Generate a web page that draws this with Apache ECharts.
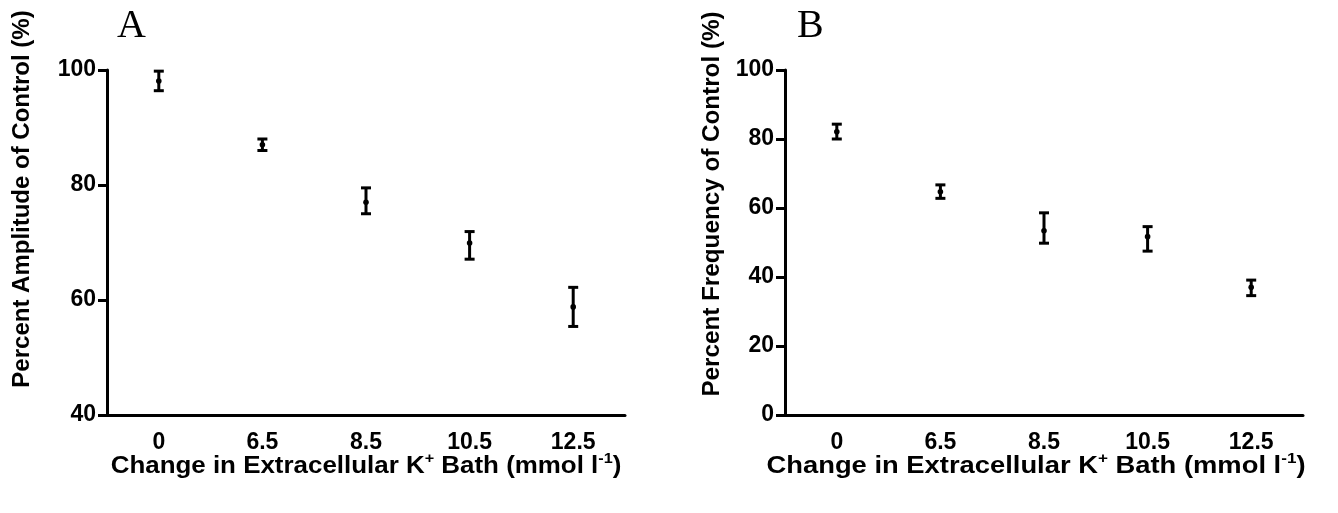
<!DOCTYPE html>
<html>
<head>
<meta charset="utf-8">
<script src="https://cdn.jsdelivr.net/npm/echarts@6/dist/echarts.min.js"></script>
<style>html,body{margin:0;padding:0;background:#fff;}#c{width:1338px;height:513px;}</style>
</head>
<body>
<div id="c"></div>
<script>
var categories = ['0', '6.5', '8.5', '10.5', '12.5'];
// Panel A: Percent Amplitude of Control (%)
var ampMean = [98.1, 87.0, 77.0, 69.9, 58.8];
var ampLow  = [96.4, 86.0, 75.0, 67.1, 55.4];
var ampHigh = [99.8, 88.0, 79.5, 71.9, 62.2];
// Panel B: Percent Frequency of Control (%)
var freqMean = [82.1, 64.7, 53.4, 51.7, 37.0];
var freqLow  = [80.0, 62.8, 49.8, 47.5, 34.6];
var freqHigh = [84.3, 66.7, 58.6, 54.6, 39.1];
var ampTicks = [40, 60, 80, 100];
var freqTicks = [0, 20, 40, 60, 80, 100];
var xTitle = 'Change in Extracellular K{sup|+} Bath (mmol l{sup|-1})';
var yTitleA = 'Percent Amplitude of Control (%)';
var yTitleB = 'Percent Frequency of Control (%)';

var FONT = 'Liberation Sans';

function buildData(mean, low, high) {
  return categories.map(function (c, i) { return [i, mean[i], low[i], high[i]]; });
}

function renderErr(params, api) {
  var x = api.value(0);
  var pm = api.coord([x, api.value(1)]);
  var pl = api.coord([x, api.value(2)]);
  var ph = api.coord([x, api.value(3)]);
  var cap = 5;
  var st = { stroke: '#000', lineWidth: 3 };
  return {
    type: 'group',
    children: [
      { type: 'line', shape: { x1: pm[0], y1: pl[1], x2: pm[0], y2: ph[1] }, style: st },
      { type: 'line', shape: { x1: pm[0] - cap, y1: pl[1], x2: pm[0] + cap, y2: pl[1] }, style: st },
      { type: 'line', shape: { x1: pm[0] - cap, y1: ph[1], x2: pm[0] + cap, y2: ph[1] }, style: st },
      { type: 'circle', shape: { cx: pm[0], cy: pm[1], r: 2.8 }, style: { fill: '#000' } }
    ]
  };
}

var axisLineStyle = { color: '#000', width: 3 };

function xAxis(idx) {
  return {
    type: 'category', gridIndex: idx, data: categories, boundaryGap: true,
    axisLine: { lineStyle: axisLineStyle },
    axisTick: { alignWithLabel: true, length: 10, lineStyle: { color: '#000', width: 3 } },
    axisLabel: { color: '#000', fontFamily: FONT, fontWeight: 'bold', fontSize: 23, margin: 16 }
  };
}

function yAxis(idx, min, max) {
  return {
    type: 'value', gridIndex: idx, min: min, max: max, interval: 20,
    splitLine: { show: false },
    axisLine: { show: true, lineStyle: axisLineStyle },
    axisTick: { show: true, length: 9, lineStyle: { color: '#000', width: 3 } },
    axisLabel: { color: '#000', fontFamily: FONT, fontWeight: 'bold', fontSize: 23, margin: 11 }
  };
}

var supStyle = { fontSize: 15, fontFamily: FONT, fontWeight: 'bold', fill: '#000', verticalAlign: 'top', padding: [0, 0, 14, 0] };

function titleText(text, x, y, rot, sx) {
  return {
    type: 'text', x: x, y: y, rotation: rot, scaleX: sx, scaleY: 1,
    style: {
      text: text, fill: '#000', font: 'bold 24px "Liberation Sans"',
      align: 'center', verticalAlign: 'middle',
      rich: { sup: supStyle }
    }
  };
}

var chart = echarts.init(document.getElementById('c'));
chart.setOption({
  animation: false,
  backgroundColor: '#fff',
  grid: [
    { left: 107, right: 713, top: 70, bottom: 98 },
    { left: 785, right: 35, top: 70, bottom: 98 }
  ],
  xAxis: [xAxis(0), xAxis(1)],
  yAxis: [
    yAxis(0, ampTicks[0], ampTicks[ampTicks.length - 1]),
    yAxis(1, freqTicks[0], freqTicks[freqTicks.length - 1])
  ],
  graphic: [
    { type: 'text', left: 117, top: 6, style: { text: 'A', font: '40px "Liberation Serif"', fill: '#000' } },
    { type: 'text', left: 797, top: 6, style: { text: 'B', font: '40px "Liberation Serif"', fill: '#000' } },
    titleText(xTitle, 366, 466, 0, 1.08),
    titleText(xTitle, 1036, 466, 0, 1.14),
    titleText(yTitleA, 22, 199, Math.PI / 2, 1.0),
    titleText(yTitleB, 712, 204, Math.PI / 2, 1.01)
  ],
  series: [
    { type: 'custom', xAxisIndex: 0, yAxisIndex: 0, renderItem: renderErr, data: buildData(ampMean, ampLow, ampHigh), encode: { x: 0, y: [1, 2, 3] } },
    { type: 'custom', xAxisIndex: 1, yAxisIndex: 1, renderItem: renderErr, data: buildData(freqMean, freqLow, freqHigh), encode: { x: 0, y: [1, 2, 3] } }
  ]
});
</script>
</body>
</html>
